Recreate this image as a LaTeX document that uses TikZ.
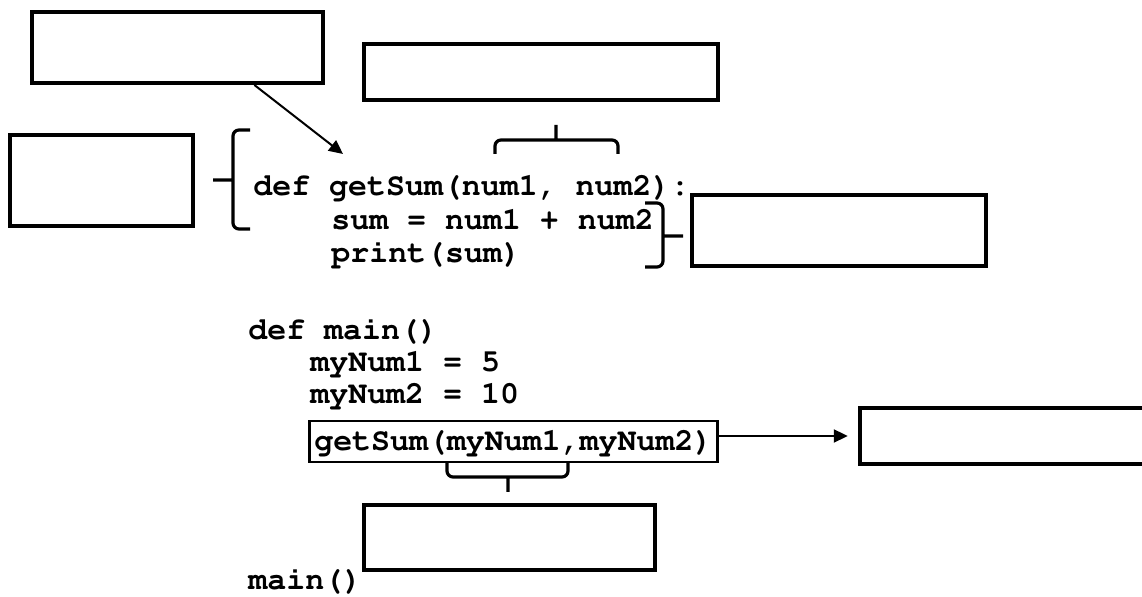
\documentclass[tikz,border=0pt]{standalone}
\usepackage[T1]{fontenc}
\usetikzlibrary{arrows.meta}

\newcommand\codefont{\fontfamily{pcr}\fontseries{b}\fontsize{15.8pt}{18pt}\selectfont}

\begin{document}
\begin{tikzpicture}[x=0.5pt, y=-0.5pt, >={Triangle[length=7pt,width=6.5pt]},
    code/.style={anchor=base west, inner sep=0pt, font=\codefont},
    blank/.style={draw, line width=2.2pt, inner sep=0pt},
    curly/.style={line width=1.6pt, rounded corners=3pt},
    link/.style={->, line width=1pt}]
  \useasboundingbox (0,0) rectangle (1142,597);

  %% Empty answer boxes
  \node[blank, minimum width=145.3pt, minimum height=35.3pt] (fname)  at (177.5,47.5) {};
  \node[blank, minimum width=176.8pt, minimum height=27.8pt] (params) at (541,72) {};
  \node[blank, minimum width=91.3pt,  minimum height=45.3pt] (header) at (101.5,180.5) {};
  \node[blank, minimum width=146.8pt, minimum height=35.3pt] (body)   at (839,230.5) {};
  \node[blank, minimum width=150pt,   minimum height=27.8pt] (result) at (1010,436) {};
  \node[blank, minimum width=145.3pt, minimum height=32.3pt] (args)   at (509.5,537.5) {};

  %% Function definition
  \node[code] (defsum)    at (253,196) {def getSum(num1, num2):};
  \node[code] (sumline)   at (331,230) {sum = num1 + num2};
  \node[code] (printline) at (331,263) {print(sum)};

  %% Main program
  \node[code] (defmain)  at (248,340) {def main()};
  \node[code] (num1line) at (310,372) {myNum1 = 5};
  \node[code] (num2line) at (310,404) {myNum2 = 10};
  \node[code, draw, line width=1.3pt, inner xsep=2.5pt, inner ysep=1pt,
        text height=14pt, text depth=4.5pt] (call) at (308,451) {getSum(myNum1,myNum2)};
  \node[code] (mainline) at (248,590) {main()};

  %% Braces
  \draw[curly] (250,130) -- (233,130) -- (233,229) -- (250,229)
               (233,180) -- (213,180);
  \draw[curly] (495,154) -- (495,140) -- (618,140) -- (618,154)
               (556,140) -- (556,125);
  \draw[curly] (645,203) -- (663,203) -- (663,267) -- (645,267)
               (663,236) -- (683,236);
  \draw[curly] (447,463) -- (447,477) -- (568,477) -- (568,463)
               (508,477) -- (508,492);

  %% Arrows
  \coordinate (fnametip) at (343,154);
  \draw[link] (fname.-26) -- (fnametip);
  \draw[link, shorten >=5pt] (call.east |- result.west) -- (result.west);
\end{tikzpicture}
\end{document}
